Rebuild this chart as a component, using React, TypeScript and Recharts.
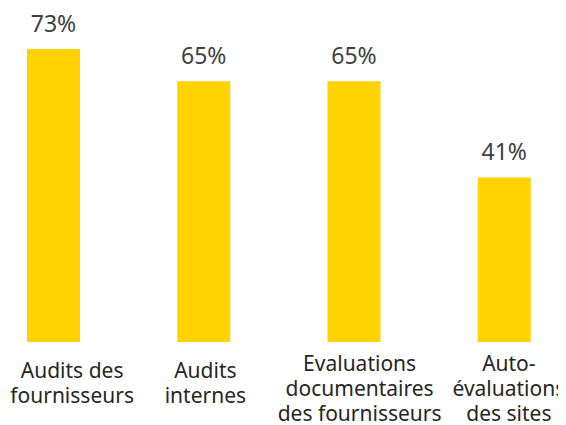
import React from "react"
import { BarChart, Bar, XAxis, YAxis, LabelList } from "recharts"

// categories, as they wrap on the picture
const categories = [
  ["Audits des", "fournisseurs"],
  ["Audits", "internes"],
  ["Evaluations", "documentaires", "des fournisseurs"],
  ["Auto-", "évaluations", "des sites"],
]
const shares = [73, 65, 65, 41]

const data = categories.map((lines, i) => ({
  name: lines.join(" "),
  value: shares[i],
}))

const FONT = "'Noto Sans', 'DejaVu Sans', sans-serif"
// small nudges so the wrapped labels sit like in the source slide
const TICK_DX = [19, 2, 6, 5]

function CategoryTick(props: any) {
  const { x, y, index } = props
  const lines = categories[index] || []
  const first = y + 30 - (lines.length - 2) * 7
  const cx = x + (TICK_DX[index] || 0)
  return (
    <text x={cx} y={first} textAnchor="middle" fill="#262626" fontSize={21} fontFamily={FONT}>
      {lines.map((l: string, i: number) => (
        <tspan key={i} x={cx} dy={i === 0 ? 0 : 25}>
          {l}
        </tspan>
      ))}
    </text>
  )
}

export default function App() {
  return (
    <BarChart
      width={558}
      height={417}
      data={data}
      margin={{ top: 13, right: -13, left: -30, bottom: 0 }}
      barCategoryGap={0}
    >
      <XAxis
        dataKey="name"
        axisLine={false}
        tickLine={false}
        height={83}
        interval={0}
        tickMargin={0}
        tick={<CategoryTick />}
      />
      <YAxis hide domain={[0, 80]} />
      <Bar dataKey="value" fill="#FFD200" barSize={53} isAnimationActive={false}>
        <LabelList
          dataKey="value"
          position="top"
          offset={17}
          formatter={(v: any) => `${v}%`}
          fill="#404040"
          fontSize={23}
          fontFamily={FONT}
        />
      </Bar>
    </BarChart>
  )
}
